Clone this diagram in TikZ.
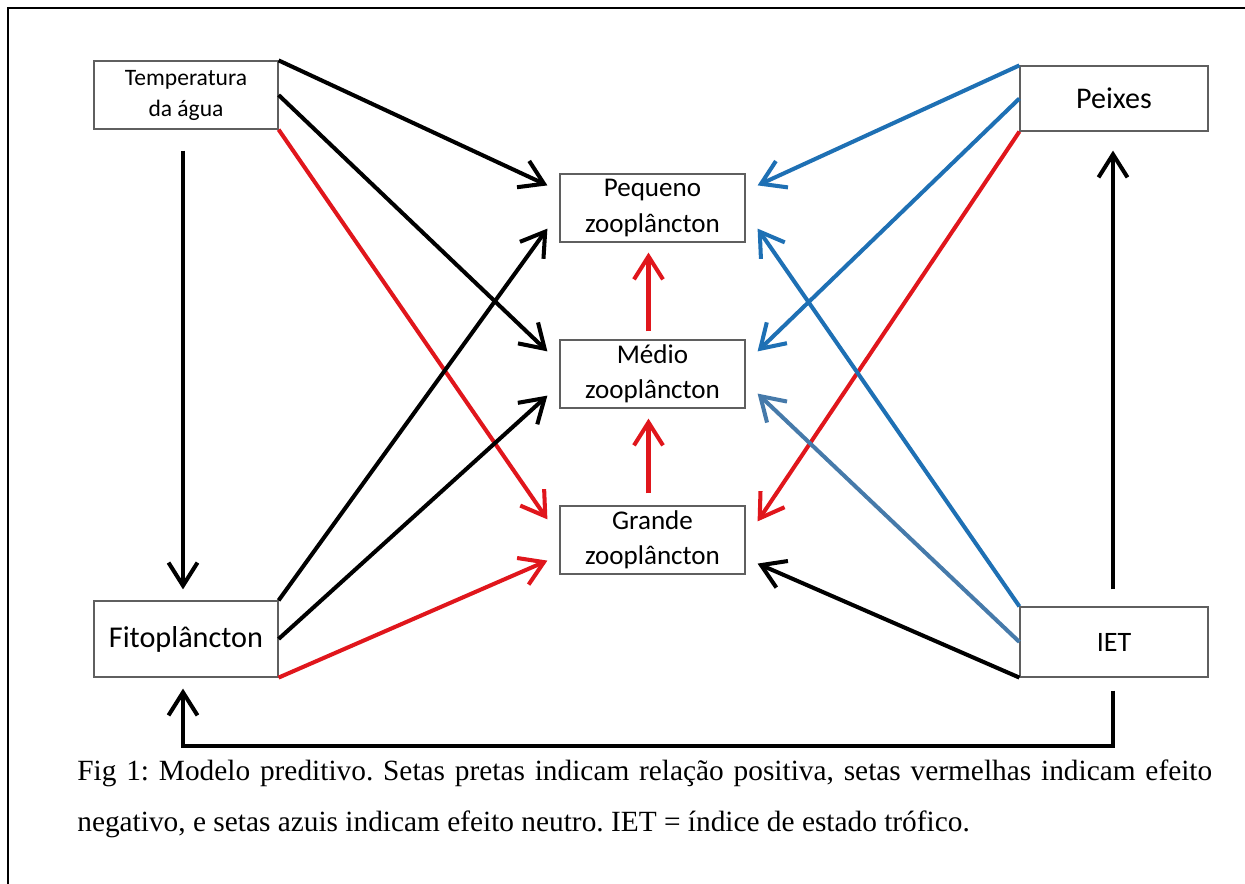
\documentclass[tikz,border=0pt]{standalone}
\usepackage{fontspec}
\setmainfont{Liberation Serif}
\newfontfamily\boxfont{Carlito}
\usetikzlibrary{arrows.meta,calc}
\frenchspacing

\definecolor{setared}{RGB}{224,22,28}
\definecolor{setablue}{RGB}{30,112,180}
\definecolor{setasteel}{RGB}{70,122,170}
\definecolor{boxgray}{RGB}{95,95,95}

\begin{document}
\begin{tikzpicture}[x=0.02cm,y=-0.02cm,
  box/.style={draw=boxgray,line width=0.7pt,inner sep=0pt,align=center},
  seta/.style={line width=2.3pt,-{Straight Barb[length=4.6mm,width=5.8mm]}}]
  \useasboundingbox (0,0) rectangle (1245,884);

  % page frame (top and left edge only)
  \draw[line width=1.1pt] (1245,8) -- (8,8) -- (8,884);

  % boxes
  \node[box,minimum width=3.68cm,minimum height=1.36cm,font=\boxfont\fontsize{13.4}{17.6}\selectfont,text depth=0.35ex] (temp) at (186,95) {Temperatura\\da água};
  \node[box,minimum width=3.76cm,minimum height=1.30cm,font=\boxfont\fontsize{17.1}{19}\selectfont] (peixes) at (1114,98.5) {Peixes};
  \node[box,minimum width=3.70cm,minimum height=1.36cm,font=\boxfont\fontsize{15.4}{20}\selectfont] (peq) at (652.5,208) {Pequeno\\zooplâncton};
  \node[box,minimum width=3.70cm,minimum height=1.36cm,font=\boxfont\fontsize{15.4}{20}\selectfont] (medio) at (652.5,374) {Médio\\zooplâncton};
  \node[box,minimum width=3.70cm,minimum height=1.36cm,font=\boxfont\fontsize{15.4}{20}\selectfont] (grande) at (652.5,540) {Grande\\zooplâncton};
  \node[box,minimum width=3.68cm,minimum height=1.52cm,font=\boxfont\fontsize{17.2}{19}\selectfont] (fito) at (186,639) {Fitoplâncton};
  \node[box,minimum width=3.76cm,minimum height=1.40cm,font=\boxfont\fontsize{16}{19}\selectfont] (iet) at (1114,642) {IET};

  % temperatura
  \draw[seta] (temp.north east) -- ($(peq.north west)+(-12,12)$);
  \draw[seta] (temp.east) -- ($(medio.north west)+(-12,12)$);
  \draw[seta,setared] (temp.south east) -- ($(grande.north west)+(-12,14)$);
  \draw[seta] ($(temp.south)+(-3,21)$) -- ($(fito.north)+(-3,-11)$);

  % fitoplancton
  \draw[seta] (fito.north east) -- ($(peq.south west)+(-12,-14)$);
  \draw[seta] (fito.east) -- ($(medio.south west)+(-12,-13)$);
  \draw[seta,setared] (fito.south east) -- ($(grande.south west)+(-12,-14)$);

  % peixes
  \draw[seta,setablue] (peixes.north west) -- ($(peq.north east)+(12,12)$);
  \draw[seta,setablue] (peixes.west) -- ($(medio.north east)+(12,12)$);
  \draw[seta,setared] (peixes.south west) -- ($(grande.north east)+(12,16)$);

  % IET
  \draw[seta,setablue] (iet.north west) -- ($(peq.south east)+(12,-14)$);
  \draw[seta,setasteel] (iet.west) -- ($(medio.south east)+(12,-15)$);
  \draw[seta] (iet.south west) -- ($(grande.south east)+(12,-11)$);
  \draw[seta] ($(iet.north)+(-1,-17)$) -- ($(peixes.south)+(-1,19)$);
  \draw[seta] ($(iet.south)+(-1,13)$) -- ++(0,55) -| ($(fito.south)+(-3,11)$);

  % between zooplankton sizes
  \draw[seta,setared] ($(medio.north)+(-4,-8)$) -- ($(peq.south)+(-4,10)$);
  \draw[seta,setared] ($(grande.north)+(-4,-12)$) -- ($(medio.south)+(-4,10)$);

  % caption
  \node[anchor=base west,inner sep=0pt,font=\fontsize{16.7}{20}\selectfont] (cap1) at (77,781)
    {\makebox[22.7cm][s]{Fig 1: Modelo preditivo. Setas pretas indicam relação positiva, setas vermelhas indicam efeito}};
  \node[anchor=base west,inner sep=0pt,font=\fontsize{16.7}{20}\selectfont] (cap2) at (77,832)
    {negativo, e setas azuis indicam efeito neutro. IET = índice de estado trófico.};
\end{tikzpicture}
\end{document}
